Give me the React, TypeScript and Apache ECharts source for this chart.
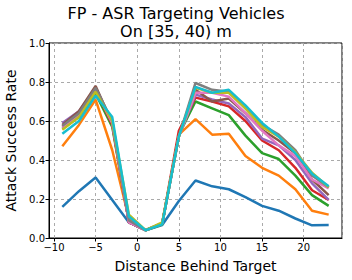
import React, { useEffect, useRef } from "react";
import * as echarts from "echarts";

const xs = [-9, -7, -5, -3, -1, 1, 3, 5, 7, 9, 11, 13, 15, 17, 19, 21, 23];
const xStep = 5;

const blue = [0.16, 0.24, 0.31, 0.195, 0.08, 0.04, 0.067, 0.19, 0.295, 0.265, 0.25, 0.21, 0.165, 0.14, 0.10, 0.065, 0.067];
const orange = [0.47, 0.58, 0.71, 0.45, 0.10, 0.04, 0.07, 0.53, 0.61, 0.53, 0.535, 0.42, 0.36, 0.32, 0.25, 0.14, 0.12];
const green = [0.56, 0.62, 0.74, 0.57, 0.08, 0.04, 0.07, 0.53, 0.70, 0.665, 0.63, 0.525, 0.435, 0.405, 0.32, 0.22, 0.165];
const red = [0.57, 0.63, 0.76, 0.58, 0.08, 0.04, 0.075, 0.55, 0.72, 0.70, 0.675, 0.60, 0.50, 0.45, 0.36, 0.245, 0.195];
const purple = [0.59, 0.65, 0.77, 0.59, 0.08, 0.04, 0.075, 0.52, 0.735, 0.71, 0.69, 0.62, 0.51, 0.475, 0.40, 0.28, 0.195];
const brown = [0.58, 0.65, 0.78, 0.59, 0.08, 0.04, 0.075, 0.52, 0.76, 0.70, 0.715, 0.64, 0.555, 0.50, 0.435, 0.30, 0.22];
const pink = [0.565, 0.63, 0.76, 0.59, 0.08, 0.04, 0.075, 0.52, 0.745, 0.745, 0.725, 0.64, 0.55, 0.475, 0.42, 0.30, 0.255];
const gray = [0.575, 0.64, 0.77, 0.60, 0.09, 0.04, 0.075, 0.52, 0.795, 0.76, 0.75, 0.665, 0.58, 0.53, 0.45, 0.32, 0.26];
const olive = [0.555, 0.62, 0.75, 0.60, 0.12, 0.04, 0.08, 0.52, 0.77, 0.745, 0.745, 0.665, 0.57, 0.52, 0.44, 0.335, 0.26];
const cyan = [0.535, 0.60, 0.73, 0.62, 0.11, 0.04, 0.07, 0.52, 0.775, 0.745, 0.76, 0.68, 0.59, 0.52, 0.435, 0.33, 0.265];

const seriesList = [blue, orange, green, red, purple, brown, pink, gray, olive, cyan];
const colors = ["#1f77b4", "#ff7f0e", "#2ca02c", "#d62728", "#9467bd", "#8c564b", "#e377c2", "#7f7f7f", "#bcbd22", "#17becf"];

const font = "DejaVu Sans";
const gridLine = { color: "#aaaaaa", type: [3, 3] as number[], width: 1 };

export default function App() {
  const ref = useRef<HTMLDivElement>(null);
  useEffect(() => {
    if (!ref.current) return;
    const chart = echarts.init(ref.current, null, { renderer: "svg" });
    const fmt = (v: number) => (v < 0 ? "\u2212" + Math.abs(v) : String(v));
    const titleStyle = { fontFamily: font, fontSize: 16, fontWeight: "normal", color: "#000", lineHeight: 16 };
    chart.setOption({
      animation: false,
      title: [
        { text: "FP - ASR Targeting Vehicles", left: "center", top: 5, padding: 0, textStyle: titleStyle },
        { text: "On [35, 40) m", left: "center", top: 23, padding: 0, textStyle: titleStyle },
      ],
      grid: {
        left: 49,
        right: 10,
        top: 43,
        bottom: 42,
        show: true,
        borderColor: "#000",
        borderWidth: 1,
        containLabel: false,
        outerBoundsMode: "none",
      },
      xAxis: {
        type: "value",
        min: -10.6,
        max: 24.6,
        minInterval: xStep,
        maxInterval: xStep,
        name: "Distance Behind Target",
        nameLocation: "middle",
        nameGap: 21,
        nameTextStyle: { fontFamily: font, fontSize: 14, color: "#000" },
        axisLine: { show: true, onZero: false, lineStyle: { color: "#000" } },
        axisTick: { show: true, length: 3.5, lineStyle: { color: "#000" } },
        axisLabel: {
          fontFamily: font,
          fontSize: 10,
          color: "#000",
          margin: 4,
          showMinLabel: false,
          showMaxLabel: false,
          formatter: fmt,
        },
        splitLine: { show: true, lineStyle: gridLine },
      },
      yAxis: {
        type: "value",
        min: 0,
        max: 1,
        interval: 0.2,
        name: "Attack Success Rate",
        nameLocation: "middle",
        nameGap: 30,
        nameTextStyle: { fontFamily: font, fontSize: 14, color: "#000" },
        axisLine: { show: true, onZero: false, lineStyle: { color: "#000" } },
        axisTick: { show: true, length: 3.5, lineStyle: { color: "#000" } },
        axisLabel: { fontFamily: font, fontSize: 10, color: "#000", margin: 4, formatter: (v: number) => v.toFixed(1) },
        splitLine: { show: true, lineStyle: gridLine },
      },
      series: seriesList.map((arr, i) => ({
        type: "line",
        data: xs.map((x, j) => [x, arr[j]]),
        showSymbol: false,
        symbol: "none",
        lineStyle: { width: 2.5, color: colors[i] },
        itemStyle: { color: colors[i] },
        z: 2 + i,
      })),
    });
    return () => chart.dispose();
  }, []);
  return <div ref={ref} style={{ width: 352, height: 280, position: "absolute", left: 0, top: 0 }} />;
}
